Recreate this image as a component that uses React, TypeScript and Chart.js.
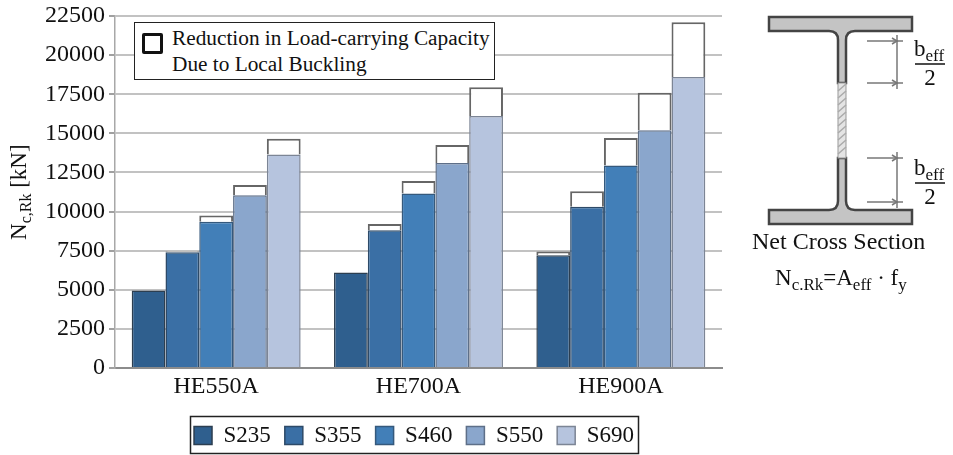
import React, { useEffect, useRef } from "react";
import { Chart, registerables } from "chart.js";

Chart.register(...registerables);

const categories = ["HE550A", "HE700A", "HE900A"];
const steels = ["S235", "S355", "S460", "S550", "S690"];
const netS235 = [4950, 6100, 7200];
const netS355 = [7400, 8800, 10300];
const netS460 = [9350, 11150, 12950];
const netS550 = [11050, 13100, 15200];
const netS690 = [13650, 16100, 18600];
const lossS235 = [0, 0, 250];
const lossS355 = [50, 400, 1000];
const lossS460 = [400, 800, 1750];
const lossS550 = [650, 1150, 2400];
const lossS690 = [1000, 1850, 3500];
const yTicks = [0, 2500, 5000, 7500, 10000, 12500, 15000, 17500, 20000, 22500];
const fills = ["#2f5f8e", "#3a6fa5", "#427fb8", "#8aa6cc", "#b6c4de"];
const edges = ["#2c3e50", "#2d4a68", "#35597c", "#5e6f88", "#7c8595"];

const nets = [netS235, netS355, netS460, netS550, netS690];
const losses = [lossS235, lossS355, lossS460, lossS550, lossS690];
const SERIF = "'Liberation Serif', serif";

const legendFrame = {
  id: "legendFrame",
  afterLayout(chart: any) {
    chart.legend.left += 53;
    chart.legend.right += 53;
  },
  afterDraw(chart: any) {
    const l = chart.legend;
    if (!l || !l.legendHitBoxes?.length) return;
    const c = chart.ctx;
    c.save();
    c.strokeStyle = "#222";
    c.lineWidth = 1.5;
    c.strokeRect(190.5, 416.5, 448, 37);
    c.restore();
  },
};

function Dim({ top, bottom, label }: { top: number; bottom: number; label: number }) {
  return (
    <g>
      <g stroke="#777" strokeWidth={1.5} fill="none">
        <line x1={867} y1={top} x2={903} y2={top} />
        <line x1={867} y1={bottom} x2={903} y2={bottom} />
        <line x1={897} y1={top - 6} x2={897} y2={bottom + 6} />
        <path d={`M892 ${top - 3} L897 ${top} L892 ${top + 3}`} />
        <path d={`M892 ${bottom - 3} L897 ${bottom} L892 ${bottom + 3}`} />
      </g>
      <text x={914} y={label} fontSize={23}>
        b
        <tspan fontSize={17} dy={5}>eff</tspan>
      </text>
      <line x1={915} y1={label + 8} x2={945} y2={label + 8} stroke="#111" strokeWidth={1.5} />
      <text x={930} y={label + 29} fontSize={23} textAnchor="middle">2</text>
    </g>
  );
}

export default function App() {
  const ref = useRef<HTMLCanvasElement>(null);
  useEffect(() => {
    const datasets: any[] = [];
    steels.forEach((s, i) => {
      datasets.push({
        label: s,
        data: nets[i],
        stack: "g" + i,
        backgroundColor: fills[i],
        borderColor: edges[i],
        borderWidth: 1.5,
      });
      datasets.push({
        label: "loss " + s,
        data: losses[i],
        stack: "g" + i,
        backgroundColor: "#ffffff",
        borderColor: "#666666",
        borderWidth: 2,
      });
    });
    const chart = new Chart(ref.current!, {
      type: "bar",
      data: { labels: categories, datasets },
      plugins: [legendFrame],
      options: {
        responsive: false,
        animation: false,
        layout: { padding: { top: 16, right: 106, left: 0, bottom: 0 } },
        datasets: { bar: { barPercentage: 1, categoryPercentage: 0.835 } },
        plugins: {
          tooltip: { enabled: false },
          legend: {
            position: "bottom",
            labels: {
              filter: (it: any) => !it.text.startsWith("loss"),
              boxWidth: 18,
              boxHeight: 18,
              padding: 14,
              color: "#111",
              font: { family: SERIF, size: 23 },
            },
          },
        },
        scales: {
          x: {
            stacked: true,
            afterFit: (s: any) => { s.height = 42; },
            grid: { display: false, drawTicks: false },
            border: { color: "#8c8c8c", width: 2 },
            ticks: { color: "#111", padding: 4, font: { family: SERIF, size: 24 }, maxRotation: 0 },
          },
          y: {
            stacked: true,
            min: 0,
            max: 22500,
            afterFit: (s: any) => { s.width = 115; s.paddingTop = 0; s.paddingBottom = 0; },
            afterBuildTicks: (s: any) => { s.ticks = yTicks.map((v) => ({ value: v })); },
            grid: { color: "#c2c2c2", lineWidth: 2, tickLength: 6, tickColor: "#a0a0a0" },
            border: { color: "#a8a8a8", width: 1.5 },
            ticks: { color: "#111", padding: 4, font: { family: SERIF, size: 24, lineHeight: 1 }, callback: (v: any) => String(v) },
          },
        },
      } as any,
    });
    return () => chart.destroy();
  }, []);

  return (
    <div style={{ position: "absolute", left: 0, top: 0, width: 953, height: 455, overflow: "hidden", background: "#fff", fontFamily: SERIF, color: "#111" }}>
      <canvas ref={ref} width={828} height={457} style={{ position: "absolute", left: 0, top: 0 }} />
      <div style={{ position: "absolute", left: 134, top: 22, width: 361, height: 58, boxSizing: "border-box", border: "1.5px solid #222", background: "#fff", fontSize: 21.3 }}>
        <div style={{ position: "absolute", left: 7, top: 10, width: 21, height: 21, boxSizing: "border-box", border: "3px solid #111", borderRadius: 2 }} />
        <div style={{ position: "absolute", left: 37, top: 2, lineHeight: "26px", whiteSpace: "nowrap" }}>
          Reduction in Load-carrying Capacity
          <br />
          Due to Local Buckling
        </div>
      </div>
      <svg width={953} height={455} style={{ position: "absolute", left: 0, top: 0, fontFamily: SERIF }} fill="#111">
        <text transform="translate(26 240) rotate(-90)" fontSize={23}>
          N<tspan fontSize={16} dy={5}>c,Rk</tspan>
          <tspan dy={-5}> [kN]</tspan>
        </text>
        <path
          d="M769 17 H912 V31 H855 Q846 31 846 40 V83 H838 V40 Q838 31 829 31 H769 Z"
          fill="#c4c4c4" stroke="#444" strokeWidth={2.5}
        />
        <path
          d="M769 224 H912 V210 H855 Q846 210 846 201 V158 H838 V201 Q838 210 829 210 H769 Z"
          fill="#c4c4c4" stroke="#444" strokeWidth={2.5}
        />
        <rect x={838} y={83} width={8} height={75} fill="#e4e4e4" stroke="#999" strokeWidth={1} />
        {[87, 94, 101, 108, 115, 122, 129, 136, 143, 150].map((y) => (
          <line key={y} x1={838} y1={y + 4} x2={846} y2={y - 3} stroke="#aaa" strokeWidth={1.5} />
        ))}
        <Dim top={41} bottom={83} label={56} />
        <Dim top={158} bottom={202} label={175} />
        <text x={752} y={249} fontSize={24}>Net Cross Section</text>
        <text x={775} y={285} fontSize={23}>
          N<tspan fontSize={17} dy={5}>c.Rk</tspan>
          <tspan dy={-5}>=A</tspan>
          <tspan fontSize={17} dy={5}>eff</tspan>
          <tspan dy={-5}> · f</tspan>
          <tspan fontSize={17} dy={5}>y</tspan>
        </text>
      </svg>
    </div>
  );
}
